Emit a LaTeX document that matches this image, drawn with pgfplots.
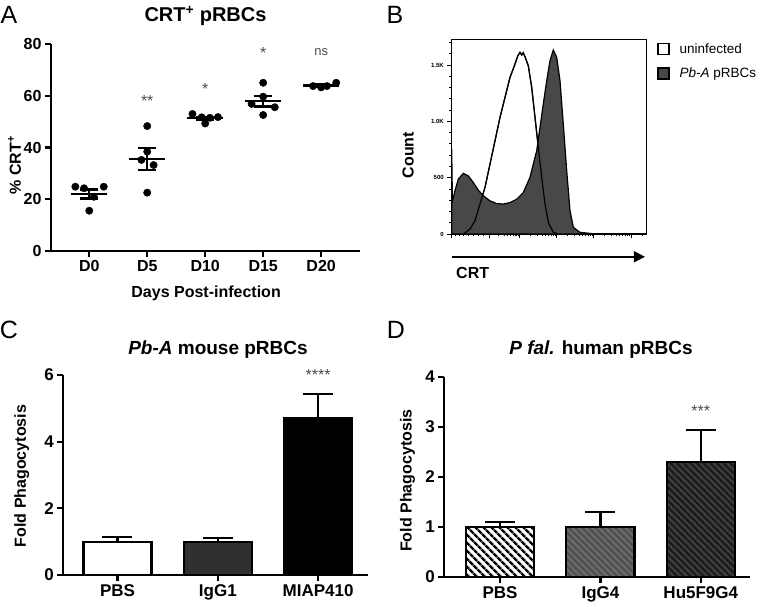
\documentclass[border=0pt]{standalone}
\usepackage{fontspec}
\setmainfont{Liberation Sans}
\setsansfont{Liberation Sans}
\usepackage{pgfplots}
\pgfplotsset{compat=1.18}
\usetikzlibrary{patterns.meta,arrows.meta}

\newcommand{\fs}[1]{\fontsize{#1bp}{#1bp}\selectfont}
\definecolor{histfill}{RGB}{72,72,72}
\definecolor{iggone}{RGB}{48,48,48}
\definecolor{iggfour}{RGB}{80,80,80}
\definecolor{iggfourln}{RGB}{108,108,108}
\definecolor{hufill}{RGB}{28,28,28}
\definecolor{huln}{RGB}{64,64,64}

\tikzset{stars/.style={font=\fs{16}, text=black!70, anchor=base, yshift=-9.5bp}}

\pgfplotsset{
  prism/.style={
    scale only axis, anchor=south west, clip=false,
    axis lines=left, axis line style={-, line width=2.3bp},
    tick align=outside, major tick length=6bp,
    every tick/.style={black, line width=2.3bp},
    tick label style={font=\bfseries\fs{16}},
    label style={font=\bfseries\fs{16}},
    /pgf/number format/assume math mode=true,
  },
  ebar/.style={
    error bars/y dir=plus, error bars/y explicit,
    error bars/error bar style={line width=2.3bp, black},
    error bars/error mark options={rotate=90, mark size=15bp, line width=2.3bp, black},
  },
  bars/.style={ybar, bar width=0.68, bar shift=0pt, draw=black, line width=2.3bp},
}

\begin{document}
\begin{tikzpicture}
\path[use as bounding box] (0,0) rectangle (762bp,607bp);

% ---------- A ----------
\begin{axis}[prism,
  at={(51bp,356.3bp)}, width=309bp, height=206.4bp,
  xmin=-0.66, xmax=4.67, ymin=0, ymax=80,
  xtick={0,1,2,3,4}, xticklabels={D0,D5,D10,D15,D20},
  ytick={0,20,40,60,80},
  xlabel={Days Post-infection},
  xlabel style={at={(rel axis cs:0.502,-0.205)}, anchor=center},
  ylabel={\% CRT\textsuperscript{+}},
  ylabel style={at={(rel axis cs:-0.118,0.415)}, anchor=center},
]
\addplot[only marks, mark=*, mark size=3.7bp, black] coordinates {
  (-0.24,24.8) (-0.09,24.2) (0,15.5) (0.08,20.9) (0.25,24.8)
  (1,48.3) (1,38.4) (0.9,35.2) (1.11,33.2) (1,22.5)
  (1.78,53.0) (1.94,51.7) (2,49.3) (2.08,51.5) (2.22,51.8)
  (3,65.1) (3,59.7) (2.8,56.9) (3.2,55.6) (3,52.6)
  (3.86,63.8) (4,63.3) (4.1,63.8) (4.26,65.1)
};
\addplot[only marks, mark=-, mark size=18bp, mark options={line width=2.2bp}, black,
  error bars/y dir=both, error bars/y explicit,
  error bars/error bar style={line width=2.2bp, black},
  error bars/error mark options={rotate=90, mark size=9bp, line width=2.2bp, black}]
  coordinates {
  (0,22.0) +- (0,1.75)
  (1,35.5) +- (0,4.2)
  (2,51.3) +- (0,0.65)
  (3,58.0) +- (0,2.1)
  (4,64.0) +- (0,0.4)
};
\node[stars] at (axis cs:1,59.5) {**};
\node[stars] at (axis cs:2,64.2) {*};
\node[stars] at (axis cs:3,78.1) {*};
\node[font=\fs{13}, text=black!70, anchor=base, yshift=-3.4bp] at (axis cs:4,77.1) {ns};
\end{axis}

% ---------- B ----------
\begin{axis}[
  at={(451.7bp,373bp)}, anchor=south west, scale only axis, clip=false,
  width=195bp, height=194.7bp,
  xmin=0, xmax=195, ymin=0, ymax=1729,
  axis line style={line width=1.1bp},
  tick pos=left, tick align=outside,
  major tick length=4.5bp, minor tick length=2.5bp,
  every tick/.style={black, line width=0.9bp},
  xtick={0,38,68,105,142,180}, xticklabels={},
  minor xtick={4,8,12,17,22,27,32,47,52.3,56,59,61.3,63.4,65.1,66.6,
    79.1,85.7,90.3,93.9,96.8,99.3,101.4,103.3,
    116.1,122.7,127.3,130.9,133.8,136.3,138.4,140.3,
    153.1,159.7,164.3,167.9,170.8,173.3,175.4,177.3,191.1},
  ytick={0,500,1000,1500}, yticklabels={0,500,1.0K,1.5K},
  minor ytick={100,200,300,400,600,700,800,900,1100,1200,1300,1400,1600,1700},
  yticklabel style={font=\bfseries\fs{6}},
  xlabel={CRT}, xlabel style={font=\bfseries\fs{16}, at={(rel axis cs:0.005,-0.2)}, anchor=west},
  ylabel={Count}, ylabel style={font=\bfseries\fs{16}, at={(rel axis cs:-0.224,0.405)}, anchor=center},
  legend style={at={(rel axis cs:1.053,0.99)}, anchor=north west, draw=none, fill=none,
    inner sep=0pt, font=\fs{13.5}, row sep=9bp},
  legend cell align=left,
  legend image code/.code={\draw[#1, line width=1.8bp] (0bp,-5.5bp) rectangle (11bp,5.5bp);
    \path[draw=none, fill=none] (0bp,0bp) -- (19.5bp,0bp);},
]
\addplot[fill=white, draw=black, line width=1.2bp] coordinates {
  (11.6,0) (18.3,44) (23.3,118) (28.3,266) (33.3,414) (38.3,621) (43.3,828)
  (48.3,1036) (53.3,1213) (58.3,1391) (63.3,1509) (66,1580) (68.3,1613)
  (70,1590) (71.5,1610) (73.3,1574) (76.6,1494) (80,1302) (83.3,1036)
  (86.6,769) (90,503) (93.3,266) (96.6,104) (101.6,15) (106.6,0)
};
\addplot[fill=histfill, draw=black, line width=1.2bp] coordinates {
  (0,755) (0.7,290) (3.3,385) (6.6,488) (11.6,538) (16.6,516) (21.6,457)
  (26.6,389) (31.6,340) (38.3,294) (45,270) (51.6,266) (58.3,279) (65,309)
  (71.6,368) (78.3,503) (85,740) (91.6,1155) (95,1361) (98.3,1539)
  (101.6,1634) (105,1569) (108.3,1361) (111.6,976) (115,562) (118.3,207)
  (121.6,59) (128.3,15) (141.6,2) (195,0)
} \closedcycle;
\addplot[draw=black, line width=1.2bp, forget plot] coordinates {
  (11.6,0) (18.3,44) (23.3,118) (28.3,266) (33.3,414) (38.3,621) (43.3,828)
  (48.3,1036) (53.3,1213) (58.3,1391) (63.3,1509) (66,1580) (68.3,1613)
  (70,1590) (71.5,1610) (73.3,1574) (76.6,1494) (80,1302) (83.3,1036)
  (86.6,769) (90,503) (93.3,266) (96.6,104) (101.6,15) (106.6,0)
};
\legend{uninfected, \textit{Pb-A} pRBCs}
\draw[line width=1.5bp, -{Triangle[length=11bp, width=11bp]}]
  (rel axis cs:0,-0.117) -- (rel axis cs:0.991,-0.117);
\end{axis}

% ---------- C ----------
\begin{axis}[prism,
  at={(63.3bp,32bp)}, width=305bp, height=200bp,
  xmin=-0.54, xmax=2.5, ymin=0, ymax=6,
  xtick={0,1,2}, xticklabels={PBS,IgG1,MIAP410},
  ytick={0,2,4,6},
  tick label style={font=\bfseries\fs{17}},
  ylabel={Fold Phagocytosis},
  ylabel style={at={(rel axis cs:-0.136,0.495)}, anchor=center},
]
\addplot[bars, fill=white, ebar] coordinates {(0,1.0) +- (0,0.13)};
\addplot[bars, fill=iggone, ebar] coordinates {(1,1.0) +- (0,0.12)};
\addplot[bars, fill=black, ebar] coordinates {(2,4.7) +- (0,0.73)};
\node[stars] at (axis cs:2,6.13) {****};
\end{axis}

% ---------- D ----------
\begin{axis}[prism,
  at={(444.3bp,30.3bp)}, width=305.7bp, height=200bp,
  xmin=-0.555, xmax=2.49, ymin=0, ymax=4,
  xtick={0,1,2}, xticklabels={PBS,IgG4,Hu5F9G4},
  ytick={0,1,2,3,4},
  tick label style={font=\bfseries\fs{17}},
  ylabel={Fold Phagocytosis},
  ylabel style={at={(rel axis cs:-0.12,0.48)}, anchor=center},
]
\addplot[bars, preaction={fill=white}, pattern={Lines[angle=-45,distance=6bp,line width=2.8bp]}, pattern color=black, ebar]
  coordinates {(0,1.0) +- (0,0.09)};
\addplot[bars, preaction={fill=iggfour}, pattern={Lines[angle=-45,distance=4.7bp,line width=2bp]}, pattern color=iggfourln, ebar]
  coordinates {(1,1.0) +- (0,0.29)};
\addplot[bars, preaction={fill=hufill}, pattern={Lines[angle=-45,distance=4.7bp,line width=2bp]}, pattern color=huln, ebar]
  coordinates {(2,2.3) +- (0,0.63)};
\node[stars] at (axis cs:2,3.39) {***};
\end{axis}

% ---------- panel letters and titles ----------
\node[font=\fs{25}] at (9bp,592bp) {A};
\node[font=\fs{25}] at (395bp,592bp) {B};
\node[font=\fs{25}] at (9bp,277bp) {C};
\node[font=\fs{25}] at (396bp,277bp) {D};
\node[font=\bfseries\fs{20}, anchor=base] at (205.5bp,585bp) {CRT\textsuperscript{+} pRBCs};
\node[font=\bfseries\fs{19}, anchor=base] at (218bp,252bp) {\textit{Pb-A} mouse pRBCs};
\node[font=\bfseries\fs{19}, anchor=base] at (601bp,252bp) {\textit{P fal.} human pRBCs};
\end{tikzpicture}
\end{document}
